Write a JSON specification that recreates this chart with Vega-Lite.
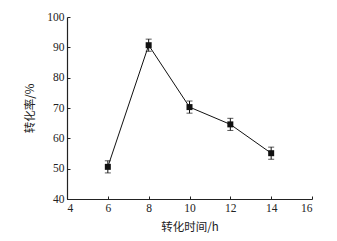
{
  "$schema": "https://vega.github.io/schema/vega-lite/v6.json",
  "width": 245,
  "height": 182,
  "autosize": {"type": "none"},
  "padding": {"left": 67, "top": 17, "right": 25, "bottom": 42},
  "background": "white",
  "config": {
    "view": {"stroke": null},
    "font": "Liberation Serif",
    "axis": {
      "grid": false,
      "domainColor": "#222",
      "tickColor": "#222",
      "labelColor": "#222",
      "titleColor": "#222",
      "labelFont": "Liberation Serif",
      "labelFontSize": 11.5,
      "titleFont": "Noto Sans CJK SC",
      "titleFontSize": 11.5,
      "titleFontWeight": "normal",
      "tickSize": -3,
      "domainWidth": 1.2,
      "labelPadding": 6
    }
  },
  "data": {
    "values": [
      {"t": 6, "rate": 50.6, "lo": 48.6, "hi": 52.6},
      {"t": 8, "rate": 90.7, "lo": 88.7, "hi": 92.7},
      {"t": 10, "rate": 70.3, "lo": 68.3, "hi": 72.3},
      {"t": 12, "rate": 64.6, "lo": 62.6, "hi": 66.6},
      {"t": 14, "rate": 55.1, "lo": 53.1, "hi": 57.1}
    ]
  },
  "encoding": {
    "x": {
      "field": "t", "type": "quantitative",
      "scale": {"domain": [4, 16], "nice": false, "zero": false},
      "axis": {"values": [4, 6, 8, 10, 12, 14, 16], "title": "转化时间/h", "titlePadding": 8}
    },
    "y": {
      "field": "rate", "type": "quantitative",
      "scale": {"domain": [40, 100], "nice": false, "zero": false},
      "axis": {"values": [40, 50, 60, 70, 80, 90, 100], "title": "转化率/%", "titlePadding": 11}
    }
  },
  "layer": [
    {
      "mark": {"type": "line", "color": "#111", "strokeWidth": 1}
    },
    {
      "mark": {"type": "errorbar", "color": "#111", "ticks": {"size": 6, "color": "#111"}, "rule": {"strokeWidth": 1}},
      "encoding": {
        "y": {"field": "lo", "type": "quantitative", "title": "转化率/%", "axis": {"values": [40, 50, 60, 70, 80, 90, 100], "title": "转化率/%", "titlePadding": 11}},
        "y2": {"field": "hi"}
      }
    },
    {
      "mark": {"type": "square", "color": "#111", "filled": true, "opacity": 1, "size": 36}
    }
  ]
}
